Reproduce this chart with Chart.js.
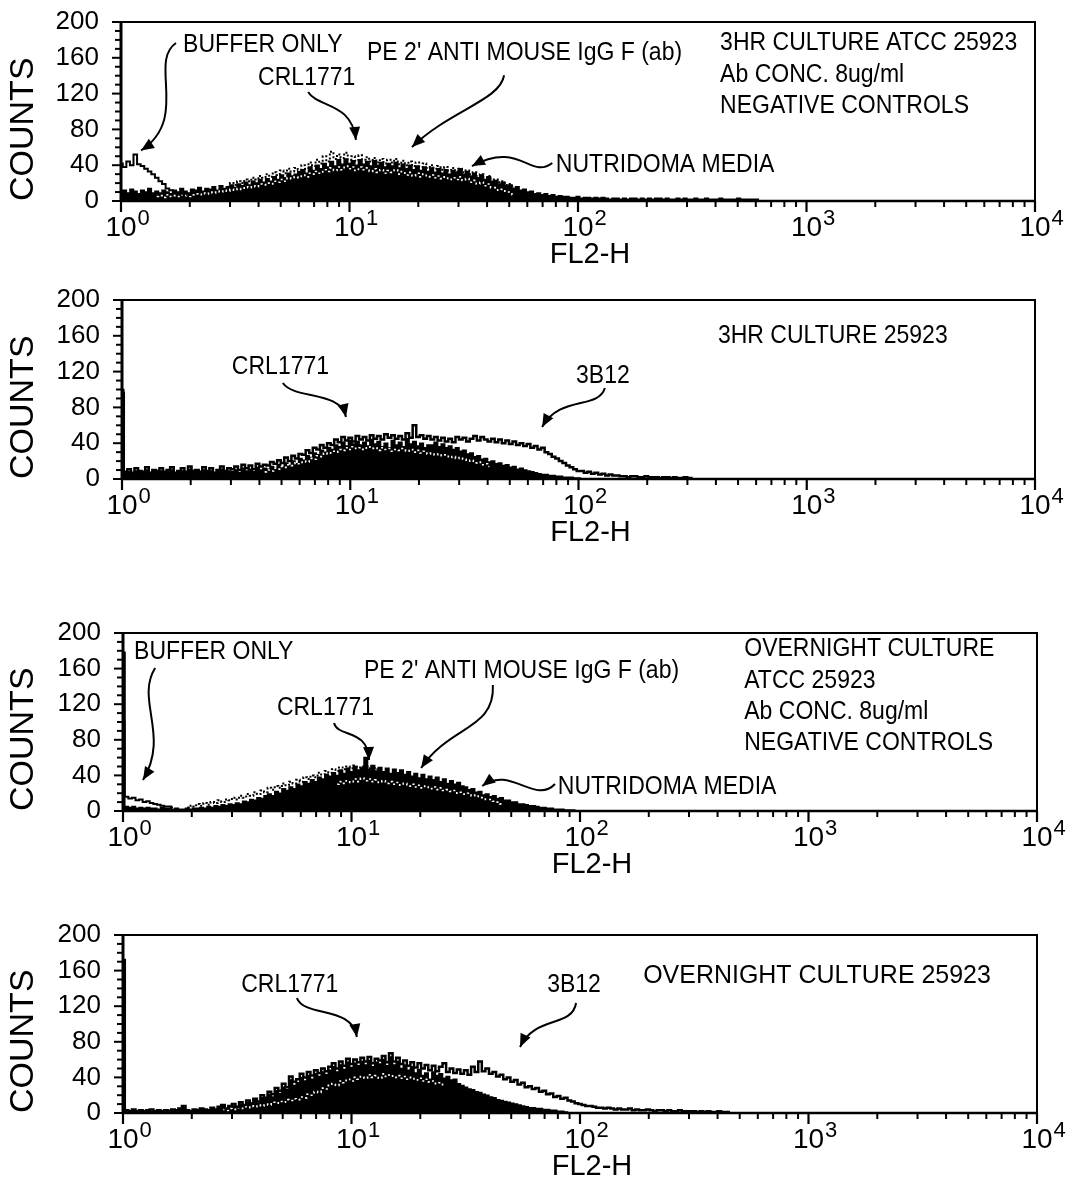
<!DOCTYPE html>
<html>
<head>
<meta charset="utf-8">
<script src="https://cdn.jsdelivr.net/npm/chart.js@4.4.1/dist/chart.umd.min.js"></script>
<style>
  html, body { margin: 0; padding: 0; background: #fff; }
  #wrap { position: relative; width: 1076px; height: 1186px; overflow: hidden; }
  #wrap canvas { position: absolute; left: 0; }
</style>
</head>
<body>
<div id="wrap">
  <canvas id="p1" width="1076" height="300" style="top:-25px"></canvas>
  <canvas id="p2" width="1076" height="315" style="top:255px"></canvas>
  <canvas id="p3" width="1076" height="320" style="top:570px"></canvas>
  <canvas id="p4" width="1076" height="296" style="top:890px"></canvas>
</div>
<script>
// FL2-H histograms: 64 log channels per decade, channel 0 = 10^0, channel 256 = 10^4
const CHANNELS_PER_DECADE = 64;
const decadeExponents = [0, 1, 2, 3, 4];
const minorMultipliers = [2, 3, 4, 5, 6, 7, 8, 9];
const countTicks = [0, 40, 80, 120, 160, 200];
const countMinorStep = 10;
const xAxisTitle = 'FL2-H';
const yAxisTitle = 'COUNTS';

// ---- 3HR culture, negative controls (counts per channel) ----
const p1NutridomaStart = 0;
const p1Nutridoma = [10,12,9,13,11,8,12,10,14,9,11, 9,12,10,8,12,10,14,11,9,13,
  12,15,11,14,13,16,12,17,14,16, 18,15,19,17,21,18,22,20,24,21,
  25,22,27,24,29,26,31,28,30,33, 35,31,38,34,40,36,42,38, 44,39,46,41,47,42,45,40,
  46,41,44,39,45,40,43,38,42, 39,43,37,41,36,40,35,39,34,38, 33,37,32,36,31,35,30,34,32,36,
  30,33,28,31,26,29,24,27,22, 23,19,21,17,18,14,16,12,13,10, 11,8,9,7,8,6,7,5,6,5,
  5,4,4,5,3,4,4,3,4,3,4, 3,2,3,3,2,3,2,3,3,2, 3,2,3,2,3,3,2,3,2,2, 3,2,3,2,2,3,2,2,3,2,
  2,2,3,2,2,2,2,3,2,2,2,2,2, 0];
const p1PeStart = 30;
const p1Pe = [16,20,18,22,20,24,22,26,24,28,26, 30,27,32,29,34,31,36,33,37,35,
  40,36,43,39,46,42,50,44, 55,47,52,48,54,46,50,45, 51,46,49,44,48,43,47,42,46,
  43,47,41,45,40,44,39,43,38,42, 37,40,36,39,35,38,34,37,33,36, 32,34,30,32,28,30,26,28,24,
  24,21,22,18,19,15];
const p1CrlStart = 10;
const p1Crl = [5,6,4,7,5,6,5,7,6,5,7, 8,7,9,8,10,9,11,10,12,11, 13,12,14,13,16,15,17,16,19,18,
  20,19,22,21,24,22,26,25,27,26, 29,27,31,30,33,31,35,33, 37,34,38,35,39,36,38,34,
  38,35,37,33,36,32,35,31,34, 32,35,30,33,29,32,28,31,27,30, 27,29,26,28,25,27,24,26,24,27,
  23,25,21,23,19,21,17,19,15, 15,12,13,10,10,7];
const p1BufferStart = 0;
const p1Buffer = [42,38,44,40,52,41,39,36,33,30,26,22,19,14,12,10,9,8,9,7,8];

// ---- 3HR culture 25923 ----
const p2CrlStart = 0;
const p2Crl = [100, 6,8,5,9,7,6,10,5,8,7, 9,6,8,10,5,7,9,6,11,7, 8,6,10,7,9,5,8,11,7,9,
  8,10,7,12,9,11,8,13,10,12, 11,14,12,16,13,18,15,20,17,23, 21,26,24,29,27,32,30,35,
  33,38,36,41,37,43,39,42,38, 41,37,44,39,42,36,40,35,43,38, 41,36,45,39,42,37,40,35,38,
  38,41,36,39,35,37,33,35,31, 32,28,29,25,26,22,23,19, 20,17,18,15,16,13,14,11,12,
  10,9,8,7,6,5,5,4, 4,3,3,2,2,2,1,1,0];
const p2B3B12Start = 0;
const p2B3B12 = [96, 8,11,7,12,9,8,13,7,10,9, 12,8,10,13,7,9,12,8,14,9, 10,8,13,9,12,7,10,14,9,12,
  11,14,10,16,12,15,11,17,14,16, 15,19,17,21,18,24,20,26,23,28, 27,32,29,35,33,38,35,40,
  38,44,41,47,43,46,42,48,44, 47,43,49,45,48,44,50,46,49,45, 48,44,51,46,60,47,49,45,48,
  44,47,43,46,42,45,41,47,44, 46,42,45,48,43,47,44,42, 45,41,44,40,43,39,42,38,40,
  37,39,35,37,33,35, 30,28,25,23,20,18, 15,13,11,9,9,7, 8,6,7,5,6,4,5,4,4,3,
  3,2,3,3,2,2,3,2,2,2,1,2,2,1,2,1,1,2,1,1];
const p2CtrlStart = 40;
const p2Ctrl = [8,10,9,12,11,14,13,16,15,18,17, 20,19,23,22,26,25,29,28, 31,30,33,32,35,33,36,34,35,
  33,36,34,35,32,35,33,34,31,33, 32,34,31,33,30,32,29,31,28, 29,27,28,26,27,24,25,23,24,
  22,20,21,18,19,16,17,14];

// ---- Overnight culture, negative controls ----
const p3BufferStart = 0;
const p3Buffer = [178,16,14,15,12,13,10,11,9,8,7,6,5,5,4];
const p3NutridomaStart = 0;
const p3Nutridoma = [100, 5,4,5,3,4,3,4,3,3,2, 4,3,3,2,3,2,2,3,2,3, 3,4,3,5,4,6,5,7,6,8,
  7,9,8,11,10,13,12,15,14,17, 19,17,22,20,25,23,27,25,30,28, 33,31,35,33,38,36,41,39,43,40,
  46,42,48,44,50,46,49,60, 47,51,45,49,44,48,42,47,43, 46,41,44,39,42,37,41,36,39,
  35,38,33,36,31,34,30,32,28, 27,24,25,21,22,18,19,16,17, 14,15,12,12,10,10,8,8,
  7,6,6,5,4,4,3,3, 2,2,2,1,1,1,0];
const p3PeStart = 18;
const p3Pe = [4,6,5,8,6,9,7,10,9,12,10, 13,12,15,13,17,15,19,17,21,19, 23,21,26,24,28,26,31,29,33,31,
  35,33,38,36,40,38,43,41,45,43, 47,45,49,47,50,48,51,49, 50,52,48,50,47,48];
const p3CrlStart = 60;
const p3Crl = [30,33,31,34,32,36,33,37,34,36,33, 35,32,34,31,33,30,32,29,31,28,
  30,27,29,26,28,25,27,24,26,23, 24,22,23,20,21,19,20,17,18,15, 15,13,13,11,10,8];

// ---- Overnight culture 25923 ----
const p4B3B12Start = 0;
const p4B3B12 = [172, 3,2,4,2,3,2,3,4,2,3, 2,3,2,4,3,5,8,3,2,4, 3,5,4,3,6,4,7,9,5,8,
  10,7,12,9,14,11,16,13, 20,17,24,21,28,25,33,29,41,35, 38,44,40,46,42,48,45,50,47,52,
  56,50,58,53,61,55,60,57,62, 58,63,56,61,59,64,57,67,58,62, 55,59,53,57,51,56,50,54,48,
  53,47,52,56,46,50,45,49,44, 48,43,52,46,58,47,50,44,46,41, 43,38,40,35,37,32,34,29,30,
  27,28,24,25,21,22,18,19,16,17, 14,13,11,10,9,8,8,7,6, 6,5,6,5,4,5,4,4,5,3,
  4,3,3,4,3,2,3,3,2,3,2,2,3,2,2,2,2, 1,2,1,2,1,1,2,1,1,1];
const p4CrlStart = 0;
const p4Crl = [104, 2,1,3,2,2,1,3,2,1,2, 2,1,3,2,3,4,6,2,2,3, 2,4,3,2,5,3,6,7,4,6,
  8,6,10,8,12,10,14,11, 17,15,21,18,25,22,29,26,37,31, 34,40,36,42,38,44,41,46,43,48,
  52,46,54,49,57,51,56,53,58, 54,59,52,57,55,60,53,63,54,58, 50,54,48,52,45,49,42,45,38,
  46,42,44,39,41,37,38,33,31, 29,27,26,24,23,21,20,18,17,15, 14,13,12,11,10,9,8,7,6,
  6,5,5,4,4,3,3,2,2,1,0];
const p4CtrlStart = 28;
const p4Ctrl = [4,3,5,4,6,5,7,6,8,7,9, 8,10,9,12,11,13,12,15,14,16, 15,18,17,21,20,24,23,28,27,31,
  33,31,36,34,38,36,40,38,41, 39,43,40,42,39,44,41,43,40,42, 39,41,38,40,37,39,36,38,35,
  36,33,34,30];

// ---- drawing ----
const FONT = "'Liberation Sans', Arial, Helvetica, sans-serif";

const seriesStyles = {
  filled:    { fill: 'origin', backgroundColor: '#000', borderColor: '#000', borderWidth: 1.5, order: 4 },
  whiteDots: { fill: false, borderColor: '#fff', borderWidth: 1.6, borderDash: [2, 3], order: 3 },
  blackDots: { fill: false, borderColor: '#000', borderWidth: 2, borderDash: [2, 2], order: 2 },
  outline:   { fill: false, borderColor: '#000', borderWidth: 2.5, order: 1 },
  solid:     { fill: false, borderColor: '#000', borderWidth: 2, order: 1 }
};

function histogram(label, values, start, style) {
  return Object.assign({
    label,
    data: values.map((v, i) => ({ x: start + i, y: v })),
    stepped: 'middle',
    pointRadius: 0,
    borderCapStyle: 'butt'
  }, seriesStyles[style]);
}

function seg(ctx, x1, y1, x2, y2, w) {
  ctx.lineWidth = w;
  ctx.beginPath();
  ctx.moveTo(x1, y1);
  ctx.lineTo(x2, y2);
  ctx.stroke();
}

// frame, tick marks, decade labels and the callouts of each panel
const panelFrame = {
  id: 'panelFrame',
  afterDatasetsDraw(chart, _args, opts) {
    const { ctx, chartArea: a, scales: { x, y } } = chart;
    ctx.save();
    ctx.strokeStyle = '#000';
    ctx.fillStyle = '#000';
    ctx.lineCap = 'butt';

    ctx.lineWidth = 2;
    ctx.strokeRect(a.left, a.top, a.right - a.left, a.bottom - a.top);
    seg(ctx, a.left, a.top - 1, a.left, a.bottom + 1, 3);
    seg(ctx, a.left - 1, a.bottom, a.right, a.bottom, 2.5);

    const yMax = countTicks[countTicks.length - 1];
    for (let v = 0; v <= yMax; v += countMinorStep) {
      const py = y.getPixelForValue(v);
      const len = countTicks.includes(v) ? 9 : 6;
      seg(ctx, a.left - len, py, a.left, py, 2);
    }

    const lastDecade = decadeExponents[decadeExponents.length - 1];
    decadeExponents.forEach(d => {
      const px = x.getPixelForValue(d * CHANNELS_PER_DECADE);
      seg(ctx, px, a.bottom, px, a.bottom + 11, 2.2);
      if (d < lastDecade) {
        minorMultipliers.forEach(m => {
          const pm = x.getPixelForValue((d + Math.log10(m)) * CHANNELS_PER_DECADE);
          seg(ctx, pm, a.bottom, pm, a.bottom + 6, 2);
        });
      }
      ctx.font = '28px ' + FONT;
      ctx.textAlign = 'center';
      ctx.textBaseline = 'alphabetic';
      ctx.fillText('10', px, a.bottom + 35);
      const w = ctx.measureText('10').width;
      ctx.font = '22px ' + FONT;
      ctx.textAlign = 'left';
      ctx.fillText(String(d), px + w / 2 + 1, a.bottom + 24);
    });

    ctx.font = '29px ' + FONT;
    ctx.textAlign = 'center';
    ctx.fillText(xAxisTitle, x.getPixelForValue(2 * CHANNELS_PER_DECADE) + 12, a.bottom + 62);

    ctx.font = '26px ' + FONT;
    ctx.textAlign = 'left';
    (opts.texts || []).forEach(t => {
      ctx.save();
      ctx.translate(x.getPixelForValue(t.ch), y.getPixelForValue(t.count));
      ctx.scale(t.stretch || 0.885, 1);
      ctx.fillText(t.text, 0, 0);
      ctx.restore();
    });

    (opts.arrows || []).forEach(path => {
      const [p0, c1, c2, p3] = path.map(([c, n]) => [x.getPixelForValue(c), y.getPixelForValue(n)]);
      ctx.lineWidth = 2;
      ctx.beginPath();
      ctx.moveTo(p0[0], p0[1]);
      ctx.bezierCurveTo(c1[0], c1[1], c2[0], c2[1], p3[0], p3[1]);
      ctx.stroke();
      const ang = Math.atan2(p3[1] - c2[1], p3[0] - c2[0]);
      const L = 13, W = 5.5;
      const bx = p3[0] - L * Math.cos(ang), by = p3[1] - L * Math.sin(ang);
      ctx.beginPath();
      ctx.moveTo(p3[0], p3[1]);
      ctx.lineTo(bx + W * Math.sin(ang), by - W * Math.cos(ang));
      ctx.lineTo(bx - W * Math.sin(ang), by + W * Math.cos(ang));
      ctx.closePath();
      ctx.fill();
    });
    ctx.restore();
  }
};

const panels = [
  {
    id: 'p1', area: { left: 121, right: 41, top: 47, bottom: 74 },
    datasets: [
      histogram('NUTRIDOMA MEDIA', p1Nutridoma, p1NutridomaStart, 'filled'),
      histogram('CRL1771', p1Crl, p1CrlStart, 'whiteDots'),
      histogram("PE 2' ANTI MOUSE IgG F (ab)", p1Pe, p1PeStart, 'blackDots'),
      histogram('BUFFER ONLY', p1Buffer, p1BufferStart, 'solid')
    ],
    texts: [
      { text: 'BUFFER ONLY', ch: 17.4, count: 166.5 },
      { text: 'CRL1771', ch: 38.4, count: 129.6 },
      { text: "PE 2' ANTI MOUSE IgG F (ab)", ch: 68.9, count: 157 },
      { text: '3HR CULTURE ATCC 25923', ch: 167.8, count: 168.7 },
      { text: 'Ab CONC. 8ug/ml', ch: 167.8, count: 133 },
      { text: 'NEGATIVE CONTROLS', ch: 167.8, count: 98.3 },
      { text: 'NUTRIDOMA MEDIA', ch: 121.8, count: 32.4 }
    ],
    arrows: [
      [[15.4, 176.5], [7.6, 155.3], [19.3, 92.2], [5.6, 56.4]],
      [[52.4, 121.8], [55.2, 104], [64.7, 110.6], [65.8, 68.2]],
      [[107.3, 140.5], [106.2, 112.3], [92.2, 101.7], [81.5, 60.3]],
      [[120.8, 42.5], [114.6, 23.5], [111.8, 68.2], [98.3, 39.1]]
    ]
  },
  {
    id: 'p2', area: { left: 122, right: 41, top: 45, bottom: 91 },
    datasets: [
      histogram('CRL1771', p2Crl, p2CrlStart, 'filled'),
      histogram('Control', p2Ctrl, p2CtrlStart, 'whiteDots'),
      histogram('3B12', p2B3B12, p2B3B12Start, 'outline')
    ],
    texts: [
      { text: 'CRL1771', ch: 30.8, count: 117.3 },
      { text: '3B12', ch: 127.3, count: 107.3 },
      { text: '3HR CULTURE 25923', ch: 167.1, count: 152 }
    ],
    arrows: [
      [[45.1, 107.3], [48.5, 88.3], [61.1, 99.4], [62.8, 69.3]],
      [[135.4, 101.7], [133.5, 77.1], [122.8, 93.9], [117.8, 58.1]]
    ]
  },
  {
    id: 'p3', area: { left: 123, right: 39, top: 63, bottom: 79 },
    datasets: [
      histogram('NUTRIDOMA MEDIA', p3Nutridoma, p3NutridomaStart, 'filled'),
      histogram('CRL1771', p3Crl, p3CrlStart, 'whiteDots'),
      histogram("PE 2' ANTI MOUSE IgG F (ab)", p3Pe, p3PeStart, 'blackDots'),
      histogram('BUFFER ONLY', p3Buffer, p3BufferStart, 'solid')
    ],
    texts: [
      { text: 'BUFFER ONLY', ch: 3.1, count: 170.8 },
      { text: 'CRL1771', ch: 43.1, count: 107.9 },
      { text: "PE 2' ANTI MOUSE IgG F (ab)", ch: 67.5, count: 149.4 },
      { text: 'OVERNIGHT CULTURE', ch: 174, count: 174.2 },
      { text: 'ATCC 25923', ch: 174, count: 138.2 },
      { text: 'Ab CONC. 8ug/ml', ch: 174, count: 103.4 },
      { text: 'NEGATIVE CONTROLS', ch: 174, count: 68.5 },
      { text: 'NUTRIDOMA MEDIA', ch: 121.8, count: 19.1 }
    ],
    arrows: [
      [[9.0, 160.7], [3.4, 124.7], [13.2, 85.4], [5.6, 34.8]],
      [[59.1, 98.9], [60.2, 82], [68.6, 93.3], [68.9, 57.3]],
      [[103.6, 141.6], [104.2, 91], [91.6, 96.6], [83.5, 48.3]],
      [[121, 30.3], [115.4, 6.7], [108.4, 51.7], [100.6, 28.1]]
    ]
  },
  {
    id: 'p4', area: { left: 123, right: 39, top: 45, bottom: 73 },
    datasets: [
      histogram('CRL1771', p4Crl, p4CrlStart, 'filled'),
      histogram('Control', p4Ctrl, p4CtrlStart, 'whiteDots'),
      histogram('3B12', p4B3B12, p4B3B12Start, 'outline')
    ],
    texts: [
      { text: 'CRL1771', ch: 33.1, count: 136 },
      { text: '3B12', ch: 118.8, count: 136 },
      { text: 'OVERNIGHT CULTURE 25923', ch: 145.7, count: 146, stretch: 0.96 }
    ],
    arrows: [
      [[48.7, 129.2], [51, 106.7], [64.1, 121.3], [65.5, 85.4]],
      [[126.9, 123.6], [125.8, 95.5], [115.4, 110.1], [111.2, 74.2]]
    ]
  }
];

panels.forEach(p => {
  new Chart(document.getElementById(p.id), {
    type: 'line',
    data: { datasets: p.datasets },
    options: {
      responsive: false,
      animation: false,
      devicePixelRatio: 1,
      events: [],
      layout: { padding: { left: 0, right: p.area.right, top: p.area.top, bottom: p.area.bottom } },
      plugins: {
        legend: { display: false },
        tooltip: { enabled: false },
        panelFrame: { texts: p.texts, arrows: p.arrows }
      },
      scales: {
        x: {
          type: 'linear',
          display: false,
          min: 0,
          max: decadeExponents[decadeExponents.length - 1] * CHANNELS_PER_DECADE
        },
        y: {
          type: 'linear',
          min: countTicks[0],
          max: countTicks[countTicks.length - 1],
          afterBuildTicks: s => { s.ticks = countTicks.map(v => ({ value: v })); },
          afterFit: s => { s.width = p.area.left; },
          ticks: { color: '#000', padding: 22, font: { family: FONT, size: 26 } },
          grid: { display: false, drawTicks: false },
          border: { display: false },
          title: {
            display: true, text: yAxisTitle, color: '#000', align: 'start',
            font: { family: FONT, size: 34 }, padding: { top: 3, bottom: 0 }
          }
        }
      }
    },
    plugins: [panelFrame]
  });
});
</script>
</body>
</html>
